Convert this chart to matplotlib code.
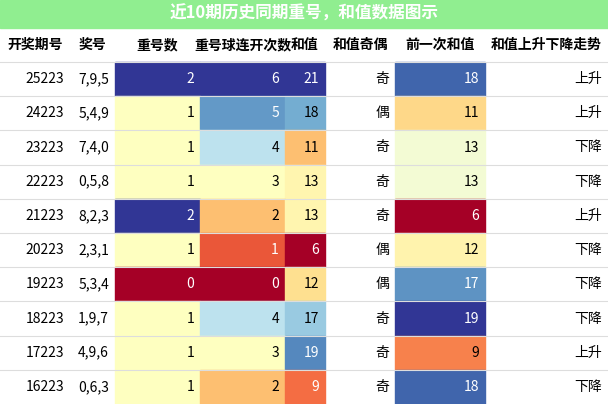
import numpy as np
import matplotlib.pyplot as plt
from matplotlib import cm, colors

plt.rcParams['font.family'] = ['Noto Sans CJK SC', 'DejaVu Sans']

title = "近10期历史同期重号，和值数据图示"
headers = ["开奖期号", "奖号", "重号数", "重号球连开次数", "和值", "和值奇偶", "前一次和值", "和值上升下降走势"]
periods = ["25223", "24223", "23223", "22223", "21223", "20223", "19223", "18223", "17223", "16223"]
numbers = ["7,9,5", "5,4,9", "7,4,0", "0,5,8", "8,2,3", "2,3,1", "5,3,4", "1,9,7", "4,9,6", "0,6,3"]
repeat_cnt = [2, 1, 1, 1, 2, 1, 0, 1, 1, 1]
repeat_run = [6, 5, 4, 3, 2, 1, 0, 4, 3, 2]
sums = [21, 18, 11, 13, 13, 6, 12, 17, 19, 9]
parity = ["奇", "偶", "奇", "奇", "奇", "偶", "偶", "奇", "奇", "奇"]
prev_sums = [18, 11, 13, 13, 6, 12, 17, 19, 9, 18]
trend = ["上升", "上升", "下降", "下降", "上升", "下降", "下降", "下降", "上升", "下降"]

col_x = [0, 70, 115, 200, 285, 325, 395, 485, 608]
W, H = 608, 404
top_title, top_head, top_data = 0, 28, 62
row_h = (H - top_data) / len(periods)

fig = plt.figure(figsize=(6.08, 4.04), dpi=100)
ax = fig.add_axes([0, 0, 1, 1])
ax.set_xlim(0, W)
ax.set_ylim(H, 0)
ax.axis("off")

ax.add_patch(plt.Rectangle((0, 0), W, top_head, color="#90ee90"))
ax.text(W / 2, top_head / 2, title, ha="center", va="center", color="white",
        fontsize=12, fontweight="bold")
for i, h in enumerate(headers):
    ax.text((col_x[i] + col_x[i + 1]) / 2, (top_head + top_data) / 2, h,
            ha="center", va="center", fontsize=10, fontweight="bold")

cmap = plt.get_cmap("RdYlBu")
colored = {2: repeat_cnt, 3: repeat_run, 4: sums, 6: prev_sums}
cols = [periods, numbers, repeat_cnt, repeat_run, sums, parity, prev_sums, trend]

for r in range(len(periods)):
    y0 = top_data + r * row_h
    for c, vals in enumerate(cols):
        x0, x1 = col_x[c], col_x[c + 1]
        tc = "black"
        if c in colored:
            v = colored[c]
            norm = colors.Normalize(min(v), max(v))
            fc = cmap(norm(v[r]))
            ax.add_patch(plt.Rectangle((x0, y0), x1 - x0, row_h, color=fc))
            lum = 0.299 * fc[0] + 0.587 * fc[1] + 0.114 * fc[2]
            if lum < 0.6:
                tc = "white"
        ax.text(x1 - 6, y0 + row_h / 2, str(vals[r]), ha="right", va="center",
                fontsize=10, color=tc)
    ax.plot([0, W], [y0, y0], color="#dddddd", lw=0.8)

fig.savefig("out.png", dpi=100)
